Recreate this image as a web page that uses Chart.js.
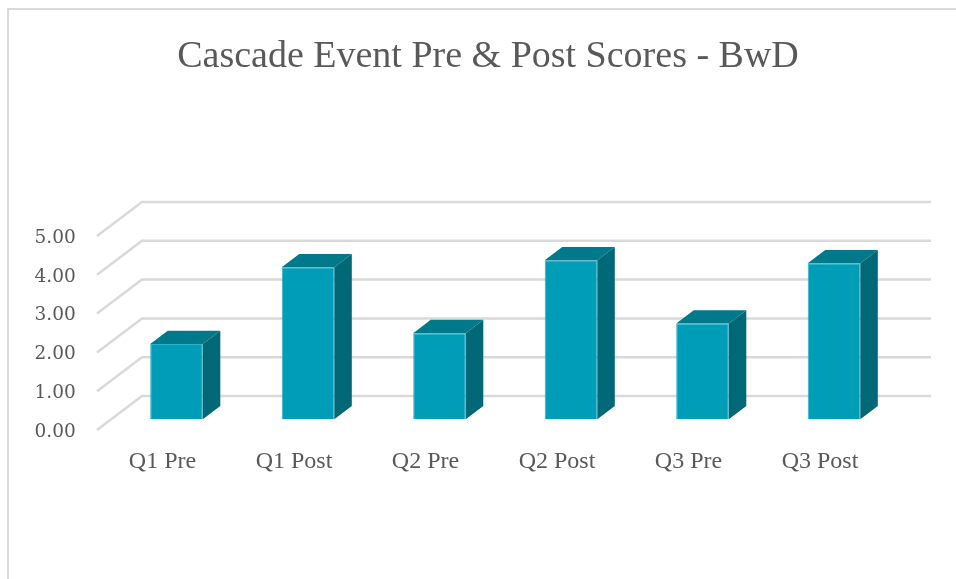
<!DOCTYPE html>
<html>
<head>
<meta charset="utf-8">
<title>Cascade Event Pre & Post Scores - BwD</title>
<script src="https://cdn.jsdelivr.net/npm/chart.js@4/dist/chart.umd.min.js"></script>
<style>
  html, body { margin: 0; height: 100%; overflow: hidden; background: #fff; }
  #frame {
    position: absolute;
    left: 7px;
    top: 8px;
    width: 958px;
    height: 600px;
    border-left: 2px solid #d9d9d9;
    border-top: 2px solid #d9d9d9;
  }
  canvas { display: block; }
</style>
</head>
<body>
<div id="frame"><canvas id="chart" width="958" height="600"></canvas></div>
<script>
const categories = ["Q1 Pre", "Q1 Post", "Q2 Pre", "Q2 Post", "Q3 Pre", "Q3 Post"];
const scores = [1.94, 3.92, 2.22, 4.1, 2.47, 4.02];
const tickValues = [0, 1, 2, 3, 4, 5];

const FONT = '"Liberation Serif", serif';
const NUMBER_FONT = '"DejaVu Serif", serif';
const GRID = "#d9d9d9";
const TEXT = "#595959";
const FACE = "#009db9";
const TOP = "#007a8b";
const SIDE = "#006877";

// walls of the fake 3D box, and the depth of one bar
const WALL_DX = 45;
const WALL_DY = -34;
const BAR_DX = 17.5;
const BAR_DY = -13.3;
const GRID_LEFT = 133;
const GRID_RIGHT = 922;

const polygon = (ctx, points, color) => {
  ctx.fillStyle = color;
  ctx.beginPath();
  points.forEach(([x, y], i) => (i ? ctx.lineTo(x, y) : ctx.moveTo(x, y)));
  ctx.closePath();
  ctx.fill();
};

const walls = {
  id: "walls",
  beforeDatasetsDraw(chart) {
    const { ctx, scales } = chart;
    ctx.save();
    ctx.strokeStyle = GRID;
    ctx.lineWidth = 2.5;
    tickValues.forEach((value) => {
      const y = scales.yBack.getPixelForValue(value);
      ctx.beginPath();
      ctx.moveTo(GRID_LEFT - WALL_DX, y - WALL_DY);
      ctx.lineTo(GRID_LEFT, y);
      ctx.lineTo(GRID_RIGHT, y);
      ctx.stroke();
    });
    ctx.restore();
  },
};

const barDepth = {
  id: "barDepth",
  afterDatasetsDraw(chart) {
    const { ctx } = chart;
    ctx.save();
    chart.getDatasetMeta(0).data.forEach((bar) => {
      const left = bar.x - bar.width / 2;
      const right = bar.x + bar.width / 2;
      polygon(ctx, [
        [left, bar.y],
        [left + BAR_DX, bar.y + BAR_DY],
        [right + BAR_DX, bar.y + BAR_DY],
        [right, bar.y],
      ], TOP);
      polygon(ctx, [
        [right, bar.y],
        [right + BAR_DX, bar.y + BAR_DY],
        [right + BAR_DX, bar.base + BAR_DY],
        [right, bar.base],
      ], SIDE);
    });
    ctx.restore();
  },
};

new Chart(document.getElementById("chart"), {
  type: "bar",
  data: {
    labels: categories,
    datasets: [
      {
        label: "Score",
        data: scores,
        yAxisID: "y",
        backgroundColor: FACE,
        borderColor: "#2fb1c9",
        borderWidth: 1,
        barPercentage: 0.4,
        categoryPercentage: 1,
      },
    ],
  },
  options: {
    responsive: false,
    animation: false,
    plugins: {
      legend: { display: false },
      tooltip: { enabled: false },
      title: {
        display: true,
        text: "Cascade Event Pre & Post Scores - BwD",
        color: TEXT,
        font: { family: FONT, size: 38, weight: "normal" },
        padding: { top: 24, bottom: 122.4 },
      },
    },
    scales: {
      x: {
        grid: { display: false },
        border: { display: false },
        afterFit: (scale) => {
          scale.height = 180;
        },
        ticks: {
          color: TEXT,
          font: { family: FONT, size: 24 },
          padding: 9,
          labelOffset: -14,
          maxRotation: 0,
        },
      },
      // the bars stand on this one
      y: { display: false, min: -0.276, max: 5.6 },
      // the back wall, where the grid lines run; only kept visible to reserve the right margin
      yBack: {
        position: "right",
        min: -0.876,
        max: 5,
        grid: { display: false },
        border: { display: false },
        ticks: { display: false },
        afterFit: (scale) => {
          scale.width = 67.25;
        },
      },
      // the front edge, where the labels sit
      yFront: {
        position: "left",
        min: 0,
        max: 5.876,
        grid: { display: false },
        border: { display: false },
        afterFit: (scale) => {
          scale.width = 101.75;
        },
        ticks: {
          stepSize: 1,
          includeBounds: false,
          color: TEXT,
          font: { family: NUMBER_FONT, size: 18.5 },
          padding: 27,
          labelOffset: 2,
          callback: (value) => value.toFixed(2),
        },
      },
    },
  },
  plugins: [walls, barDepth],
});
</script>
</body>
</html>
